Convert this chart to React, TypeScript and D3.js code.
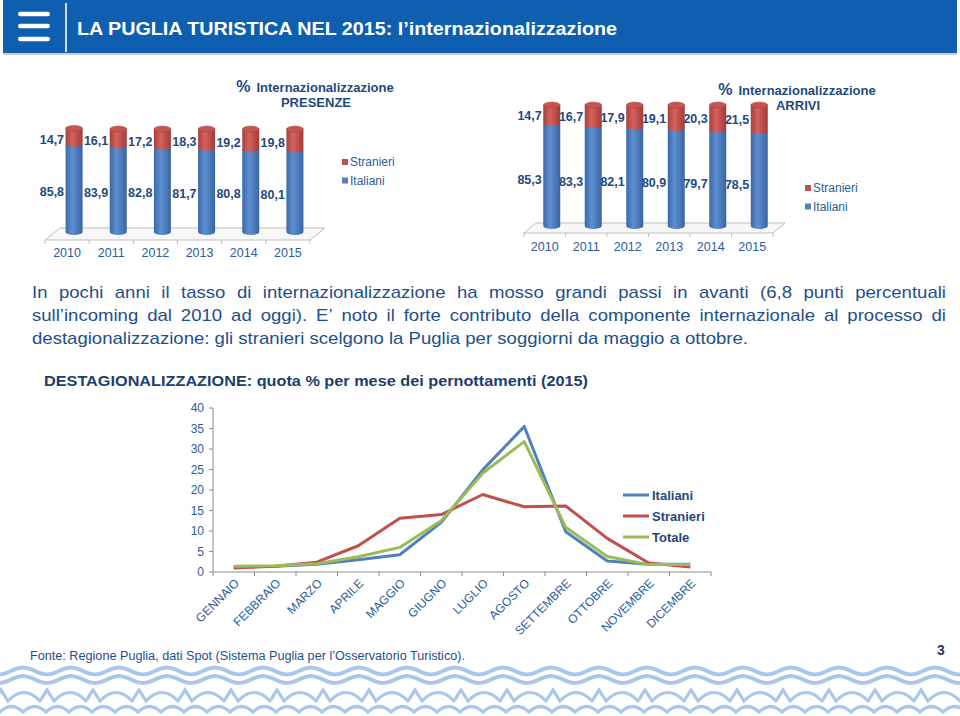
import React, { useMemo } from "react";
import * as d3 from "d3";

// ---- data ----
const YEARS = ["2010", "2011", "2012", "2013", "2014", "2015"];
const PRES_STRANIERI = [14.7, 16.1, 17.2, 18.3, 19.2, 19.8];
const PRES_ITALIANI = [85.8, 83.9, 82.8, 81.7, 80.8, 80.1];
const ARR_STRANIERI = [14.7, 16.7, 17.9, 19.1, 20.3, 21.5];
const ARR_ITALIANI = [85.3, 83.3, 82.1, 80.9, 79.7, 78.5];

const MONTHS = [
  "GENNAIO", "FEBBRAIO", "MARZO", "APRILE", "MAGGIO", "GIUGNO",
  "LUGLIO", "AGOSTO", "SETTEMBRE", "OTTOBRE", "NOVEMBRE", "DICEMBRE",
];
const M_ITALIANI = [1.2, 1.4, 1.9, 3.0, 4.2, 12.1, 24.9, 35.5, 9.8, 2.7, 1.9, 1.9];
const M_STRANIERI = [1.0, 1.4, 2.4, 6.4, 13.1, 14.0, 18.9, 15.9, 16.1, 8.2, 2.2, 1.2];
const M_TOTALE = [1.4, 1.5, 2.0, 3.7, 6.0, 12.5, 24.1, 31.8, 10.9, 3.8, 1.8, 1.8];
const Y_TICKS = [0, 5, 10, 15, 20, 25, 30, 35, 40];

const PARA = [
  "In pochi anni il tasso di internazionalizzazione ha mosso grandi passi in avanti (6,8 punti percentuali",
  "sull’incoming dal 2010 ad oggi). E’ noto il forte contributo della componente internazionale al processo di",
  "destagionalizzazione: gli stranieri scelgono la Puglia per soggiorni da maggio a ottobre.",
];

const FONT = "'Liberation Sans', Arial, Helvetica, sans-serif";
const NARROW = "'Liberation Sans Narrow', 'Liberation Sans', Arial, sans-serif";
const DARK = "#1f497d";
const MID = "#2c5d98";
const BLUE = "#4f81bd";
const RED = "#c0504d";
const GREEN = "#9bbb59";

let ctx: CanvasRenderingContext2D | null = null;
const measure = (s: string, font: string) => {
  if (!ctx) ctx = document.createElement("canvas").getContext("2d");
  ctx!.font = font;
  return ctx!.measureText(s).width;
};

const Paragraph = () => {
  const font = `17px ${NARROW}`;
  const left = 32, right = 946, last = 716;
  const k = last / measure(PARA[2], font);
  const ys = [298, 321, 344];
  return (
    <g fill="#1f4e8c" fontFamily={NARROW} fontSize={17}>
      {PARA.map((line, li) => {
        if (li === PARA.length - 1)
          return (
            <text key={li} x={left} y={ys[li]} textLength={last} lengthAdjust="spacingAndGlyphs">
              {line}
            </text>
          );
        const words = line.split(" ");
        const ws = words.map(w => measure(w, font) * k);
        const gap = (right - left - d3.sum(ws)) / (words.length - 1);
        let x = left;
        return words.map((w, i) => {
          const el = (
            <text key={li + "-" + i} x={x} y={ys[li]} textLength={ws[i]} lengthAdjust="spacingAndGlyphs">
              {w}
            </text>
          );
          x += ws[i] + gap;
          return el;
        });
      })}
    </g>
  );
};

type BarCfg = {
  id: string;
  title2: string;
  italiani: number[];
  stranieri: number[];
  x0: number; x1: number; dx: number; off: number;
  yBase: number; yTop: number;
  floorFront: number; floorBack: number;
  yearY: number;
  titleX: number; titleY: number;
  legX: number; legY: number;
  stOff: number; itOff: number;
};

const BarChart = ({ c }: { c: BarCfg }) => {
  const band = d3.scaleBand<string>().domain(YEARS).range([c.x0, c.x1]);
  const y = d3.scaleLinear().domain([0, 100]).range([c.yBase, c.yTop]);
  const rx = 8.5, ry = 3;
  const step = band.step();
  return (
    <g fontFamily={FONT}>
      <defs>
        <linearGradient id={c.id + "b"} x1="0" x2="1" y1="0" y2="0">
          <stop offset="0%" stopColor="#3c69a6" />
          <stop offset="40%" stopColor="#5d8fd2" />
          <stop offset="100%" stopColor="#3a64a0" />
        </linearGradient>
        <linearGradient id={c.id + "r"} x1="0" x2="1" y1="0" y2="0">
          <stop offset="0%" stopColor="#a83f3c" />
          <stop offset="40%" stopColor="#d4625e" />
          <stop offset="100%" stopColor="#a13b38" />
        </linearGradient>
      </defs>
      {/* floor */}
      <polygon
        points={[
          [c.x0, c.floorFront], [c.x1, c.floorFront],
          [c.x1 + c.dx, c.floorBack], [c.x0 + c.dx, c.floorBack],
        ].map(p => p.join(",")).join(" ")}
        fill="#f7f7f7" stroke="#bfbfbf" strokeWidth={1}
      />
      {d3.range(YEARS.length + 1).map(i => (
        <line key={i} x1={c.x0 + i * step} x2={c.x0 + i * step}
          y1={c.floorFront} y2={c.floorFront + 4} stroke="#bfbfbf" />
      ))}
      {YEARS.map((yr, i) => {
        const cx = band(yr)! + step / 2 + c.off;
        const it = c.italiani[i], st = c.stranieri[i];
        const y0 = y(0), yb = y(it), yt = y(it + st);
        return (
          <g key={yr}>
            <path
              d={`M${cx - rx},${yb} L${cx - rx},${y0} A${rx},${ry} 0 0 0 ${cx + rx},${y0} L${cx + rx},${yb} Z`}
              fill={`url(#${c.id}b)`}
            />
            <path
              d={`M${cx - rx},${yt} L${cx - rx},${yb} A${rx},${ry} 0 0 0 ${cx + rx},${yb} L${cx + rx},${yt} Z`}
              fill={`url(#${c.id}r)`}
            />
            <ellipse cx={cx} cy={yt} rx={rx} ry={ry} fill="#c45652" stroke="#a53d3a" strokeWidth={0.4} />
            <text x={cx - rx - 1.5} y={y(it + st / 2) + c.stOff} textAnchor="end"
              fontSize={12.5} fontWeight="bold" fill={DARK}>
              {st.toFixed(1).replace(".", ",")}
            </text>
            <text x={cx - rx - 1.5} y={y(it / 2) + c.itOff} textAnchor="end"
              fontSize={12.5} fontWeight="bold" fill={DARK}>
              {it.toFixed(1).replace(".", ",")}
            </text>
            <text x={band(yr)! + step / 2} y={c.yearY} textAnchor="middle" fontSize={12.5} fill={MID}>
              {yr}
            </text>
          </g>
        );
      })}
      <text x={c.titleX} y={c.titleY} textAnchor="middle" fontWeight="bold" fill={DARK} fontSize={13}>
        <tspan fontSize={16}>%</tspan>
        <tspan dx={6}>Internazionalizzazione</tspan>
      </text>
      <text x={c.titleX + 1} y={c.titleY + 15} textAnchor="middle" fontWeight="bold" fill={DARK} fontSize={13}>
        {c.title2}
      </text>
      {[["Stranieri", RED], ["Italiani", BLUE]].map(([name, col], i) => (
        <g key={name}>
          <rect x={c.legX} y={c.legY + i * 18.5 - 3} width={6} height={6} fill={col} />
          <text x={c.legX + 8} y={c.legY + i * 18.5 + 4} fontSize={12} fill={MID}>{name}</text>
        </g>
      ))}
    </g>
  );
};

const LineChart = () => {
  const x = d3.scaleBand<string>().domain(MONTHS).range([213, 711]);
  const y = d3.scaleLinear().domain([0, 40]).range([572, 408]);
  const cxm = (i: number) => x(MONTHS[i])! + x.bandwidth() / 2;
  const line = d3.line<number>().x((_, i) => cxm(i)).y(d => y(d));
  const series: [string, number[], string][] = [
    ["Italiani", M_ITALIANI, BLUE],
    ["Stranieri", M_STRANIERI, RED],
    ["Totale", M_TOTALE, GREEN],
  ];
  return (
    <g fontFamily={FONT}>
      <line x1={213} x2={213} y1={408} y2={572} stroke="#8c8c8c" />
      <line x1={213} x2={711} y1={572} y2={572} stroke="#8c8c8c" />
      {Y_TICKS.map(t => (
        <g key={t}>
          <line x1={209} x2={213} y1={y(t)} y2={y(t)} stroke="#8c8c8c" />
          <text x={204} y={y(t) + 4} textAnchor="end" fontSize={12} fill={MID}>{t}</text>
        </g>
      ))}
      {d3.range(MONTHS.length + 1).map(i => (
        <line key={i} x1={213 + i * x.step()} x2={213 + i * x.step()} y1={572} y2={576} stroke="#8c8c8c" />
      ))}
      {MONTHS.map((m, i) => (
        <text key={m} transform={`translate(${cxm(i) + 6},${584}) rotate(-45)`}
          textAnchor="end" fontSize={12} fill={MID}>
          {m}
        </text>
      ))}
      {series.map(([name, vals, col]) => (
        <path key={name} d={line(vals)!} fill="none" stroke={col} strokeWidth={3} strokeLinejoin="round" />
      ))}
      {series.map(([name, , col], i) => (
        <g key={name}>
          <line x1={623} x2={649} y1={495 + i * 21} y2={495 + i * 21} stroke={col} strokeWidth={3} />
          <text x={652} y={495 + i * 21 + 5} fontSize={13} fontWeight="bold" fill={DARK}>{name}</text>
        </g>
      ))}
    </g>
  );
};

const Waves = () => {
  const col = "#a9c7e9";
  const sine = (yc: number, amp: number, per: number, ph: number) =>
    d3.line<number>().curve(d3.curveBasis)
      .x(d => d)
      .y(d => yc - amp * Math.cos((2 * Math.PI * (d - ph)) / per))(d3.range(-10, 975, 3))!;
  const peaks = () => {
    let d = "";
    for (let x0 = -6; x0 < 970; x0 += 46) {
      d += `M${x0},701 L${x0 + 7},690 L${x0 + 14},701 Q${x0 + 30},684 ${x0 + 46},701 `;
    }
    return d;
  };
  const arches = () => {
    let d = "";
    for (let x0 = 0; x0 < 970; x0 += 23) d += `M${x0},712 Q${x0 + 11.5},701 ${x0 + 23},712 `;
    return d;
  };
  return (
    <g fill="none" stroke={col} strokeLinecap="round">
      <path d={sine(671, 3.5, 48, 23)} strokeWidth={4} />
      <path d={sine(679.5, 3.5, 48, 23)} strokeWidth={4} />
      <path d={peaks()} strokeWidth={3.2} />
      <path d={arches()} strokeWidth={3.2} />
    </g>
  );
};

export default function App() {
  const left: BarCfg = useMemo(() => ({
    id: "pres", title2: "PRESENZE", italiani: PRES_ITALIANI, stranieri: PRES_STRANIERI,
    x0: 45, x1: 310, dx: 15, off: 7, yBase: 232, yTop: 129,
    floorFront: 240, floorBack: 228, yearY: 257,
    titleX: 315, titleY: 92, legX: 342, legY: 162, stOff: 8, itOff: 8,
  }), []);
  const right: BarCfg = useMemo(() => ({
    id: "arr", title2: "ARRIVI", italiani: ARR_ITALIANI, stranieri: ARR_STRANIERI,
    x0: 524, x1: 773, dx: 12, off: 7, yBase: 226, yTop: 105,
    floorFront: 233, floorBack: 223, yearY: 251,
    titleX: 797, titleY: 95, legX: 805, legY: 188, stOff: 6, itOff: 10,
  }), []);
  return (
    <svg width={960} height={716} style={{ position: "absolute", left: 0, top: 0, background: "#fff" }}>
      {/* header */}
      <rect x={3} y={0} width={954} height={53} fill="#0f5fb1" />
      <rect x={3} y={53} width={954} height={2} fill="#cfcfcf" />
      {[14, 26, 39].map(yy => (
        <rect key={yy} x={18} y={yy - 2.2} width={32} height={4.4} rx={2.2} fill="#fff" />
      ))}
      <line x1={66} x2={66} y1={3} y2={52} stroke="#fff" strokeWidth={1.6} />
      <text x={77} y={35} fill="#fff" fontFamily={NARROW} fontWeight="bold" fontSize={19}
        textLength={540} lengthAdjust="spacingAndGlyphs">
        LA PUGLIA TURISTICA NEL 2015: l’internazionalizzazione
      </text>

      <BarChart c={left} />
      <BarChart c={right} />

      <Paragraph />

      <text x={44} y={386} fontFamily={NARROW} fontWeight="bold" fontSize={15.5} fill="#1d3e6e"
        textLength={544} lengthAdjust="spacingAndGlyphs">
        DESTAGIONALIZZAZIONE: quota % per mese dei pernottamenti (2015)
      </text>

      <LineChart />

      <text x={30} y={660} fontFamily={FONT} fontSize={12.5} fill="#1f4e8c"
        textLength={435} lengthAdjust="spacingAndGlyphs">
        Fonte: Regione Puglia, dati Spot (Sistema Puglia per l’Osservatorio Turistico).
      </text>
      <text x={937} y={655} fontFamily={FONT} fontSize={14} fontWeight="bold" fill="#1f3864">3</text>

      <Waves />
    </svg>
  );
}
